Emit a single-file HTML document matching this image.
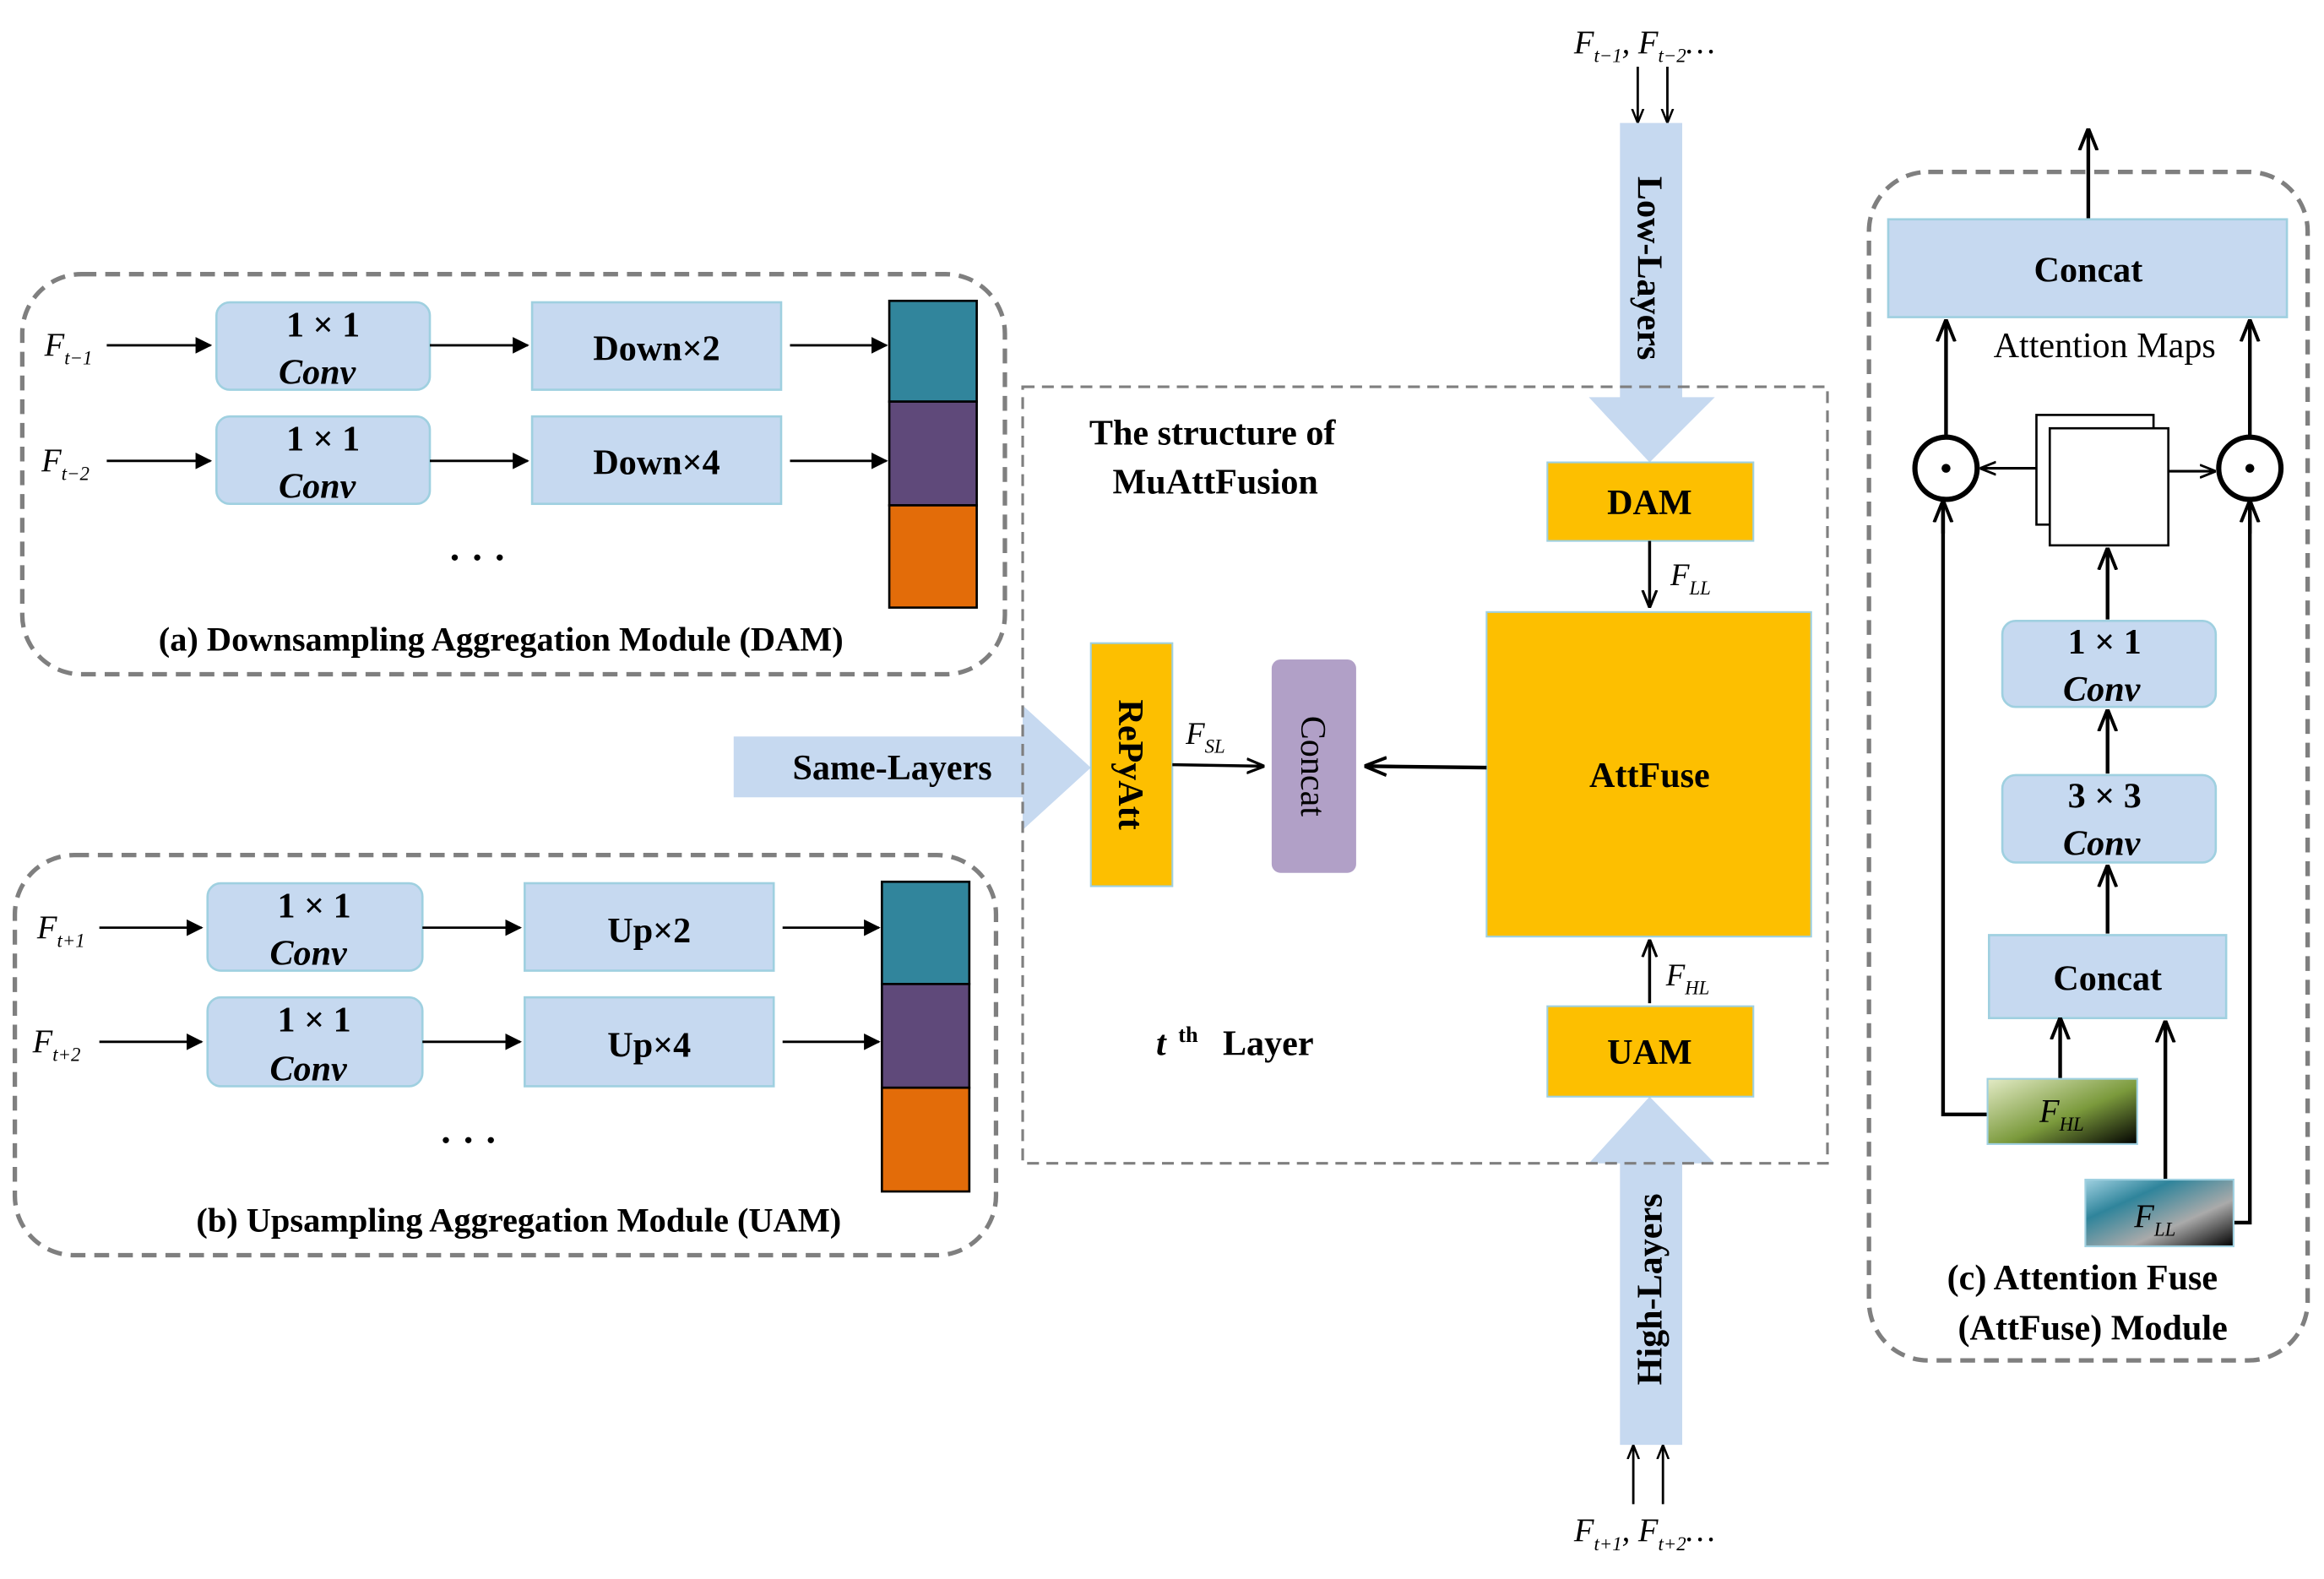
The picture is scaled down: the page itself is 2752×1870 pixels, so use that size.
<!DOCTYPE html>
<html><head><meta charset="utf-8"><style>
html,body{margin:0;padding:0;background:#fff;}
svg{display:block;}
text{font-family:"Liberation Serif",serif;fill:#000;}
.b{font-weight:bold;}
</style></head><body>
<svg width="2752" height="1870" viewBox="0 0 1568 1065.5" xmlns="http://www.w3.org/2000/svg">
<defs>
<marker id="ah" viewBox="0 0 10 10" refX="9" refY="5" markerWidth="7" markerHeight="7" orient="auto"><path d="M0,0 L10,5 L0,10 z" fill="#000"/></marker>
<marker id="ao" viewBox="0 0 10 10" refX="9" refY="5" markerWidth="6" markerHeight="6" orient="auto"><path d="M0,1 L10,5 L0,9" fill="none" stroke="#000" stroke-width="1.5"/></marker>
<linearGradient id="ghl" x1="0" y1="0" x2="1" y2="1"><stop offset="0" stop-color="#e3ebc6"/><stop offset="0.55" stop-color="#7b9a3c"/><stop offset="1" stop-color="#000"/></linearGradient>
<linearGradient id="gll" x1="0" y1="0" x2="1" y2="1"><stop offset="0" stop-color="#9fd0e0"/><stop offset="0.3" stop-color="#2f849b"/><stop offset="0.65" stop-color="#aaa"/><stop offset="1" stop-color="#000"/></linearGradient>
</defs>

<!-- DAM panel -->
<rect x="15" y="185" width="663" height="270" rx="40" fill="none" stroke="#7f7f7f" stroke-width="3" stroke-dasharray="10,6"/>
<text x="30" y="240" font-size="22" font-style="italic">F<tspan font-size="13" dy="6">t−1</tspan></text>
<line x1="72" y1="233" x2="142" y2="233" stroke="#000" stroke-width="1.6" marker-end="url(#ah)"/>
<rect x="146" y="204" width="144" height="59" rx="9" fill="#c6d9f0" stroke="#9fd0e0" stroke-width="1.5"/>
<text x="218" y="227" font-size="24" class="b" text-anchor="middle">1 × 1</text>
<text x="214" y="259" font-size="24" class="b" font-style="italic" text-anchor="middle">Conv</text>
<line x1="290" y1="233" x2="356" y2="233" stroke="#000" stroke-width="1.6" marker-end="url(#ah)"/>
<rect x="359" y="204" width="168" height="59" fill="#c6d9f0" stroke="#9fd0e0" stroke-width="1.5"/>
<text x="443" y="243" font-size="24" class="b" text-anchor="middle">Down×2</text>
<line x1="533" y1="233" x2="598" y2="233" stroke="#000" stroke-width="1.6" marker-end="url(#ah)"/>

<text x="28" y="318" font-size="22" font-style="italic">F<tspan font-size="13" dy="6">t−2</tspan></text>
<line x1="72" y1="311" x2="142" y2="311" stroke="#000" stroke-width="1.6" marker-end="url(#ah)"/>
<rect x="146" y="281" width="144" height="59" rx="9" fill="#c6d9f0" stroke="#9fd0e0" stroke-width="1.5"/>
<text x="218" y="304" font-size="24" class="b" text-anchor="middle">1 × 1</text>
<text x="214" y="336" font-size="24" class="b" font-style="italic" text-anchor="middle">Conv</text>
<line x1="290" y1="311" x2="356" y2="311" stroke="#000" stroke-width="1.6" marker-end="url(#ah)"/>
<rect x="359" y="281" width="168" height="59" fill="#c6d9f0" stroke="#9fd0e0" stroke-width="1.5"/>
<text x="443" y="320" font-size="24" class="b" text-anchor="middle">Down×4</text>
<line x1="533" y1="311" x2="598" y2="311" stroke="#000" stroke-width="1.6" marker-end="url(#ah)"/>
<text x="322" y="385" font-size="26" class="b" text-anchor="middle">· · ·</text>
<rect x="600" y="203" width="59" height="68" fill="#31859c" stroke="#000" stroke-width="1.5"/>
<rect x="600" y="271" width="59" height="70" fill="#5f497a" stroke="#000" stroke-width="1.5"/>
<rect x="600" y="341" width="59" height="69" fill="#e36c09" stroke="#000" stroke-width="1.5"/>
<text x="338" y="439" font-size="23" class="b" text-anchor="middle">(a) Downsampling Aggregation Module (DAM)</text>

<!-- UAM panel -->
<rect x="10" y="577" width="662" height="270" rx="40" fill="none" stroke="#7f7f7f" stroke-width="3" stroke-dasharray="10,6"/>
<text x="25" y="633" font-size="22" font-style="italic">F<tspan font-size="13" dy="6">t+1</tspan></text>
<line x1="67" y1="626" x2="136" y2="626" stroke="#000" stroke-width="1.6" marker-end="url(#ah)"/>
<rect x="140" y="596" width="145" height="59" rx="9" fill="#c6d9f0" stroke="#9fd0e0" stroke-width="1.5"/>
<text x="212" y="619" font-size="24" class="b" text-anchor="middle">1 × 1</text>
<text x="208" y="651" font-size="24" class="b" font-style="italic" text-anchor="middle">Conv</text>
<line x1="285" y1="626" x2="351" y2="626" stroke="#000" stroke-width="1.6" marker-end="url(#ah)"/>
<rect x="354" y="596" width="168" height="59" fill="#c6d9f0" stroke="#9fd0e0" stroke-width="1.5"/>
<text x="438" y="636" font-size="24" class="b" text-anchor="middle">Up×2</text>
<line x1="528" y1="626" x2="593" y2="626" stroke="#000" stroke-width="1.6" marker-end="url(#ah)"/>

<text x="22" y="710" font-size="22" font-style="italic">F<tspan font-size="13" dy="6">t+2</tspan></text>
<line x1="67" y1="703" x2="136" y2="703" stroke="#000" stroke-width="1.6" marker-end="url(#ah)"/>
<rect x="140" y="673" width="145" height="60" rx="9" fill="#c6d9f0" stroke="#9fd0e0" stroke-width="1.5"/>
<text x="212" y="696" font-size="24" class="b" text-anchor="middle">1 × 1</text>
<text x="208" y="729" font-size="24" class="b" font-style="italic" text-anchor="middle">Conv</text>
<line x1="285" y1="703" x2="351" y2="703" stroke="#000" stroke-width="1.6" marker-end="url(#ah)"/>
<rect x="354" y="673" width="168" height="60" fill="#c6d9f0" stroke="#9fd0e0" stroke-width="1.5"/>
<text x="438" y="713" font-size="24" class="b" text-anchor="middle">Up×4</text>
<line x1="528" y1="703" x2="593" y2="703" stroke="#000" stroke-width="1.6" marker-end="url(#ah)"/>
<text x="316" y="778" font-size="26" class="b" text-anchor="middle">· · ·</text>
<rect x="595" y="595" width="59" height="69" fill="#31859c" stroke="#000" stroke-width="1.5"/>
<rect x="595" y="664" width="59" height="70" fill="#5f497a" stroke="#000" stroke-width="1.5"/>
<rect x="595" y="734" width="59" height="70" fill="#e36c09" stroke="#000" stroke-width="1.5"/>
<text x="350" y="831" font-size="23" class="b" text-anchor="middle">(b) Upsampling Aggregation Module (UAM)</text>

<!-- Middle -->
<polygon points="1093,83 1135,83 1135,268 1157,268 1113,312 1072,268 1093,268" fill="#c6d9f0"/>
<polygon points="1093,975 1135,975 1135,785 1157,785 1113,740 1072,785 1093,785" fill="#c6d9f0"/>
<polygon points="495,497 690,497 690,476 736,518 690,560 690,538 495,538" fill="#c6d9f0"/>
<rect x="690" y="261" width="543" height="524" fill="none" stroke="#7f7f7f" stroke-width="1.8" stroke-dasharray="8,5"/>
<text x="1113" y="181" font-size="24" class="b" text-anchor="middle" transform="rotate(90 1113 181)" dy="8">Low-Layers</text>
<text x="1113" y="870" font-size="24" class="b" text-anchor="middle" transform="rotate(-90 1113 870)" dy="8">High-Layers</text>
<text x="602" y="526" font-size="24" class="b" text-anchor="middle">Same-Layers</text>
<text x="818" y="300" font-size="24" class="b" text-anchor="middle">The structure of</text>
<text x="820" y="333" font-size="24" class="b" text-anchor="middle">MuAttFusion</text>
<text x="780" y="712" font-size="24" class="b" font-style="italic">t</text>
<text x="795" y="703" font-size="15" class="b">th</text>
<text x="825" y="712" font-size="24" class="b">Layer</text>

<text x="1062" y="36" font-size="22" font-style="italic">F<tspan font-size="13" dy="6">t−1</tspan><tspan dy="-6">, F</tspan><tspan font-size="13" dy="6">t−2</tspan><tspan dy="-6">…</tspan></text>
<line x1="1105" y1="45" x2="1105" y2="82" stroke="#000" stroke-width="1.6" marker-end="url(#ao)"/>
<line x1="1125" y1="45" x2="1125" y2="82" stroke="#000" stroke-width="1.6" marker-end="url(#ao)"/>
<text x="1062" y="1040" font-size="22" font-style="italic">F<tspan font-size="13" dy="6">t+1</tspan><tspan dy="-6">, F</tspan><tspan font-size="13" dy="6">t+2</tspan><tspan dy="-6">…</tspan></text>
<line x1="1102" y1="1015" x2="1102" y2="976" stroke="#000" stroke-width="1.6" marker-end="url(#ao)"/>
<line x1="1122" y1="1015" x2="1122" y2="976" stroke="#000" stroke-width="1.6" marker-end="url(#ao)"/>

<rect x="1044" y="312" width="139" height="53" fill="#fdbf00" stroke="#9fd0e0" stroke-width="1.2"/>
<text x="1113" y="347" font-size="24" class="b" text-anchor="middle">DAM</text>
<line x1="1113" y1="365" x2="1113" y2="409" stroke="#000" stroke-width="2" marker-end="url(#ao)"/>
<text x="1127" y="395" font-size="21" font-style="italic">F<tspan font-size="13" dy="6">LL</tspan></text>
<rect x="1003" y="413" width="219" height="219" fill="#fdbf00" stroke="#9fd0e0" stroke-width="1.2"/>
<text x="1113" y="531" font-size="24" class="b" text-anchor="middle">AttFuse</text>
<rect x="1044" y="679" width="139" height="61" fill="#fdbf00" stroke="#9fd0e0" stroke-width="1.2"/>
<text x="1113" y="718" font-size="24" class="b" text-anchor="middle">UAM</text>
<line x1="1113" y1="677" x2="1113" y2="635" stroke="#000" stroke-width="2" marker-end="url(#ao)"/>
<text x="1124" y="665" font-size="21" font-style="italic">F<tspan font-size="13" dy="6">HL</tspan></text>

<rect x="736" y="434" width="55" height="164" fill="#fdbf00" stroke="#9fd0e0" stroke-width="1.2"/>
<text x="763" y="516" font-size="24" class="b" text-anchor="middle" transform="rotate(90 763 516)" dy="8">RePyAtt</text>
<line x1="791" y1="516" x2="852" y2="517" stroke="#000" stroke-width="2" marker-end="url(#ao)"/>
<text x="800" y="502" font-size="21" font-style="italic">F<tspan font-size="13" dy="6">SL</tspan></text>
<rect x="858" y="445" width="57" height="144" rx="6" fill="#b1a0c7"/>
<text x="886" y="517" font-size="24" text-anchor="middle" transform="rotate(90 886 517)" dy="8">Concat</text>
<line x1="1003" y1="518" x2="922" y2="517" stroke="#000" stroke-width="2.5" marker-end="url(#ao)"/>

<!-- Panel c -->
<rect x="1261" y="116" width="296" height="802" rx="40" fill="none" stroke="#7f7f7f" stroke-width="3" stroke-dasharray="10,6"/>
<line x1="1409" y1="148" x2="1409" y2="88" stroke="#000" stroke-width="2.5" marker-end="url(#ao)"/>
<rect x="1274" y="148" width="269" height="66" fill="#c6d9f0" stroke="#9fd0e0" stroke-width="1.5"/>
<text x="1409" y="190" font-size="24" class="b" text-anchor="middle">Concat</text>
<text x="1420" y="241" font-size="24" text-anchor="middle">Attention Maps</text>
<line x1="1313" y1="294" x2="1313" y2="217" stroke="#000" stroke-width="2.5" marker-end="url(#ao)"/>
<line x1="1518" y1="294" x2="1518" y2="217" stroke="#000" stroke-width="2.5" marker-end="url(#ao)"/>
<circle cx="1313" cy="316" r="21" fill="#fff" stroke="#000" stroke-width="3.5"/>
<circle cx="1313" cy="316" r="3" fill="#000"/>
<circle cx="1518" cy="316" r="21" fill="#fff" stroke="#000" stroke-width="3.5"/>
<circle cx="1518" cy="316" r="3" fill="#000"/>
<rect x="1374" y="280" width="79" height="74" fill="#fff" stroke="#000" stroke-width="1.5"/>
<rect x="1383" y="289" width="80" height="79" fill="#fff" stroke="#000" stroke-width="1.5"/>
<line x1="1374" y1="316" x2="1337" y2="316" stroke="#000" stroke-width="1.8" marker-end="url(#ao)"/>
<line x1="1463" y1="318" x2="1494" y2="318" stroke="#000" stroke-width="1.8" marker-end="url(#ao)"/>
<line x1="1422" y1="418" x2="1422" y2="371" stroke="#000" stroke-width="2.5" marker-end="url(#ao)"/>
<rect x="1351" y="419" width="144" height="58" rx="9" fill="#c6d9f0" stroke="#9fd0e0" stroke-width="1.5"/>
<text x="1420" y="441" font-size="24" class="b" text-anchor="middle">1 × 1</text>
<text x="1418" y="473" font-size="24" class="b" font-style="italic" text-anchor="middle">Conv</text>
<line x1="1422" y1="522" x2="1422" y2="480" stroke="#000" stroke-width="2.5" marker-end="url(#ao)"/>
<rect x="1351" y="523" width="144" height="59" rx="9" fill="#c6d9f0" stroke="#9fd0e0" stroke-width="1.5"/>
<text x="1420" y="545" font-size="24" class="b" text-anchor="middle">3 × 3</text>
<text x="1418" y="577" font-size="24" class="b" font-style="italic" text-anchor="middle">Conv</text>
<line x1="1422" y1="630" x2="1422" y2="585" stroke="#000" stroke-width="2.5" marker-end="url(#ao)"/>
<rect x="1342" y="631" width="160" height="56" fill="#c6d9f0" stroke="#9fd0e0" stroke-width="1.5"/>
<text x="1422" y="668" font-size="24" class="b" text-anchor="middle">Concat</text>
<polyline points="1341,752 1311,752 1311,340" fill="none" stroke="#000" stroke-width="2.5"/>
<line x1="1311" y1="360" x2="1311" y2="339" stroke="#000" stroke-width="2.5" marker-end="url(#ao)"/>
<polyline points="1507,825 1518,825 1518,340" fill="none" stroke="#000" stroke-width="2.5"/>
<line x1="1518" y1="360" x2="1518" y2="339" stroke="#000" stroke-width="2.5" marker-end="url(#ao)"/>
<line x1="1390" y1="728" x2="1390" y2="688" stroke="#000" stroke-width="2.5" marker-end="url(#ao)"/>
<line x1="1461" y1="796" x2="1461" y2="690" stroke="#000" stroke-width="2.5" marker-end="url(#ao)"/>
<rect x="1341" y="728" width="101" height="44" fill="url(#ghl)" stroke="#9fd0e0" stroke-width="1.2"/>
<text x="1376" y="757" font-size="22" font-style="italic">F<tspan font-size="13" dy="6">HL</tspan></text>
<rect x="1407" y="796" width="100" height="45" fill="url(#gll)" stroke="#9fd0e0" stroke-width="1.2"/>
<text x="1440" y="828" font-size="22" font-style="italic">F<tspan font-size="13" dy="6">LL</tspan></text>
<text x="1405" y="870" font-size="24" class="b" text-anchor="middle">(c) Attention Fuse</text>
<text x="1412" y="904" font-size="24" class="b" text-anchor="middle">(AttFuse) Module</text>
</svg>
</body></html>
